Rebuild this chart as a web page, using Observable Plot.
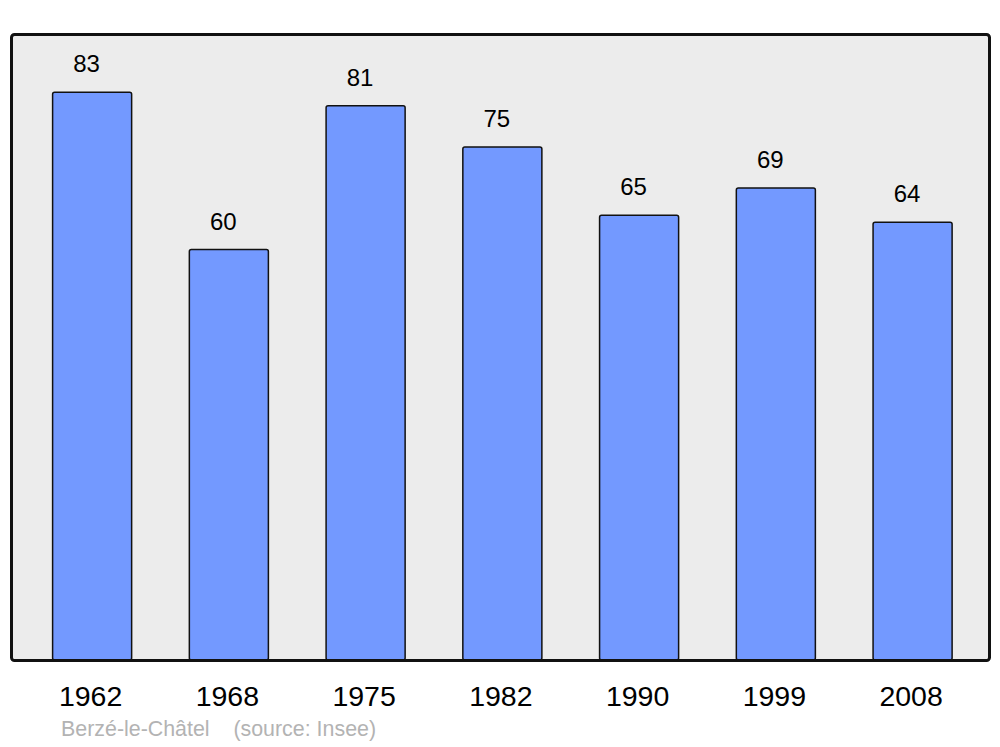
<!DOCTYPE html>
<html>
<head>
<meta charset="utf-8">
<script src="https://cdn.jsdelivr.net/npm/d3@7"></script>
<script src="https://cdn.jsdelivr.net/npm/@observablehq/plot@0.6"></script>
<style>
  html, body { margin: 0; padding: 0; background: #fff; }
  body { width: 1000px; height: 747px; overflow: hidden; font-family: "Liberation Sans", Arial, sans-serif; }
  #caption { font-size: 21.4px; color: #b3b3b3; padding-left: 61px; height: 35px; line-height: 35px; white-space: pre; }
  svg { display: block; }
</style>
</head>
<body>
<div id="chart"></div>
<div id="caption"></div>
<script>
const years = ["1962", "1968", "1975", "1982", "1990", "1999", "2008"];
const population = [83, 60, 81, 75, 65, 69, 64];
const commune = "Berzé-le-Châtel";
const source = "(source: Insee)";

const data = years.map((y, i) => ({year: y, value: population[i]}));

const chart = Plot.plot({
  width: 1000,
  height: 712,
  marginLeft: 11,
  marginRight: 11,
  marginTop: 34,
  marginBottom: 52,
  style: {fontFamily: "Liberation Sans, Arial, sans-serif", background: "white", color: "black"},
  x: {domain: years, paddingInner: 0.422, paddingOuter: 0.287, align: 0.53, round: false, label: null},
  y: {domain: [0, 91.5], axis: null},
  marks: [
    Plot.frame({fill: "#ececec", stroke: "none", rx: 3}),
    Plot.barY(data, {x: "year", y: "value", fill: "#7399ff", stroke: "#111", strokeWidth: 1.5, rx: 2}),
    Plot.text(data, {x: "year", y: "value", text: d => String(d.value), dy: -28, dx: -6, fontSize: 24, fill: "black"}),
    Plot.frame({fill: "none", stroke: "#111", strokeWidth: 3, rx: 3}),
    Plot.axisX({tickSize: 0, tickPadding: 25, fontSize: 28.5, dx: -2, label: null, fill: "black"})
  ]
});
document.getElementById("chart").appendChild(chart);
document.getElementById("caption").textContent = commune + "    " + source;
</script>
</body>
</html>
